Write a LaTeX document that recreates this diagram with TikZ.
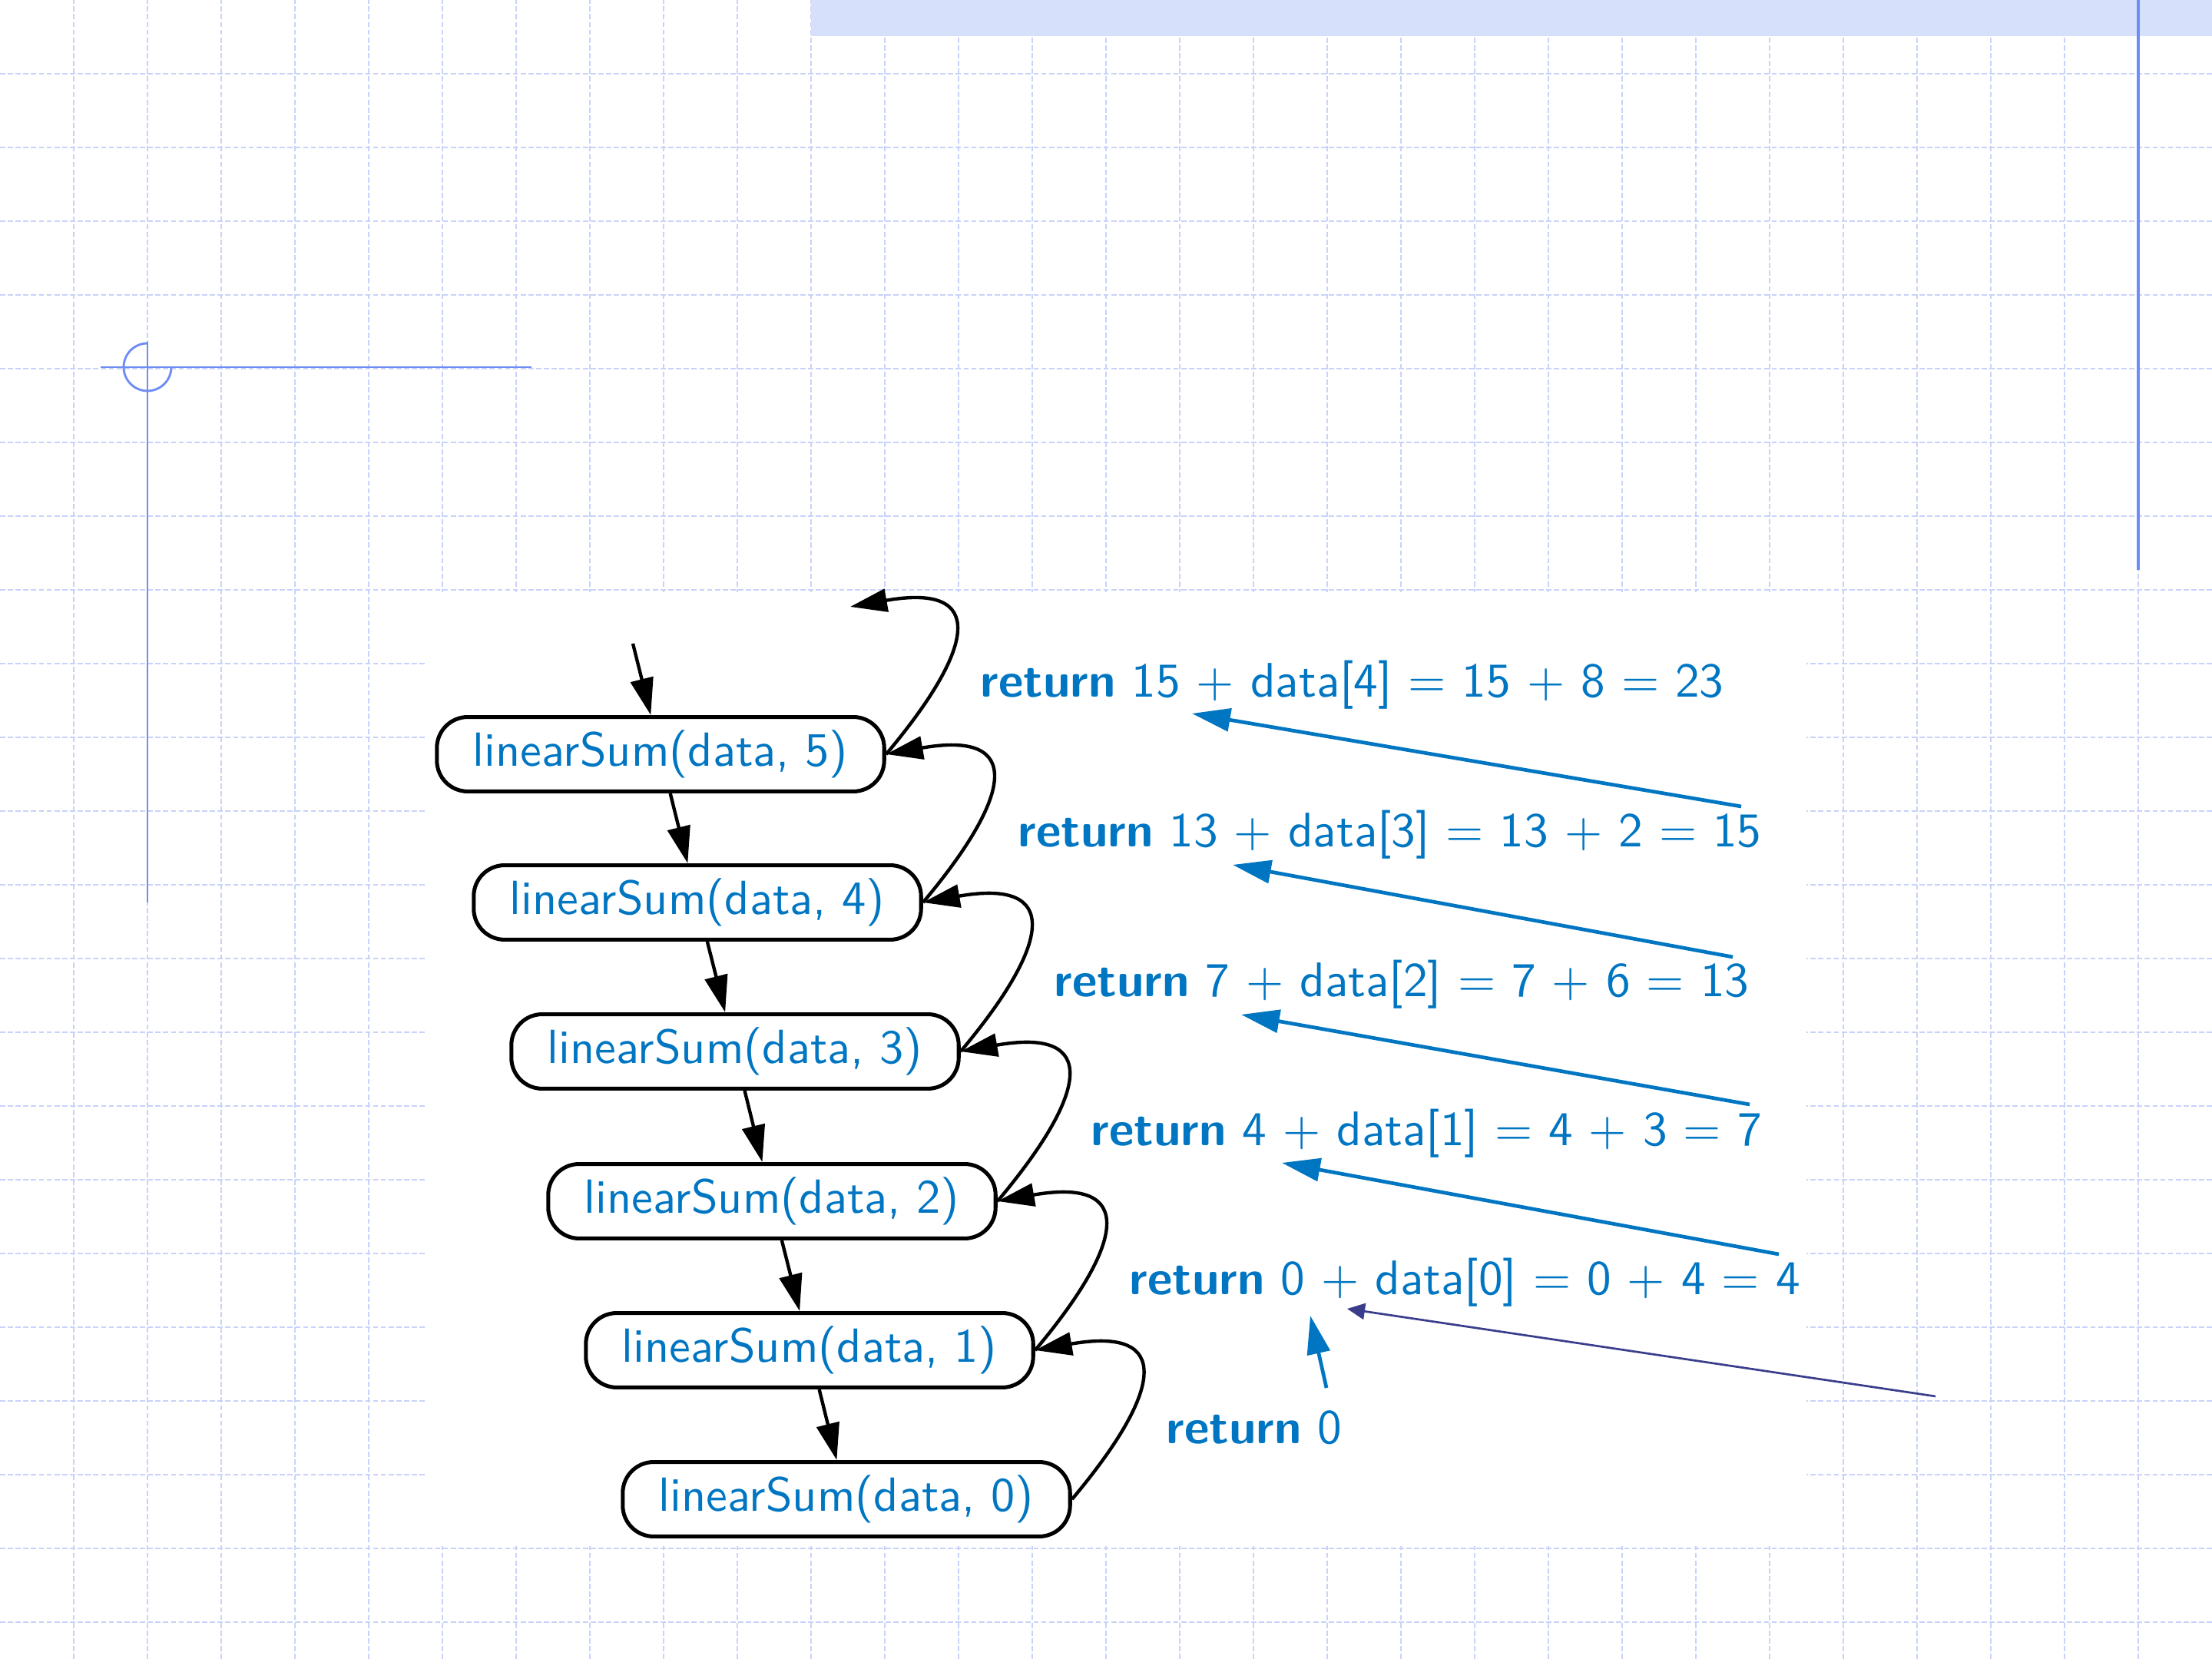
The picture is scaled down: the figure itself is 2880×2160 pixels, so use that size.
\documentclass[tikz,border=0pt]{standalone}
\usepackage{graphicx}
\usepackage{tikz}
\usetikzlibrary{arrows.meta}

\definecolor{slideblue}{RGB}{0,118,194}
\definecolor{slidenavy}{RGB}{58,61,140}
\definecolor{gridblue}{RGB}{200,210,250}
\definecolor{barblue}{RGB}{214,224,251}
\definecolor{markblue}{RGB}{110,140,245}

% slide text: the 10pt design of the sans, blown up
\newcommand{\slidetext}[2][1.85]{\scalebox{#1}{#2}}

\tikzset{
  callbox/.style={draw, line width=1.5pt, rounded corners=0.42cm, fill=white,
    minimum width=6.07cm, minimum height=1.01cm, inner sep=0pt,
    text=slideblue, font=\fontsize{10}{12}\selectfont\sffamily},
  retlabel/.style={anchor=base west, inner sep=0pt, text=slideblue,
    font=\fontsize{10}{12}\selectfont\sffamily},
  callarrow/.style={line width=1.3pt, -{Triangle[length=0.5cm, width=0.31cm]}},
  retarrow/.style={slideblue, line width=1.4pt, -{Triangle[length=0.52cm, width=0.31cm]}},
  navyarrow/.style={slidenavy, line width=0.8pt, -{Triangle[length=0.24cm, width=0.22cm]}},
  gridline/.style={gridblue, line width=0.7pt, dash pattern=on 2pt off 1pt},
  markline/.style={markblue, line width=0.85pt}
}

\begin{document}
\begin{tikzpicture}[x=0.0104167cm, y=0.0104167cm]
    \useasboundingbox (0,0) rectangle (2880,2160);
    % slide background
    \foreach \i in {1,...,29}
        \draw[gridline] (96*\i,0) -- (96*\i,2160);
    \foreach \j in {0,...,21}
        \draw[gridline] (0,48+96*\j) -- (2880,48+96*\j);
    \fill[barblue] (1056,2113) rectangle (2880,2160);
    \fill[white] (554,147) rectangle (2352,1389);
    \draw[markline] (131,1682) -- (692,1682);
    \draw[markline] (192,1715) -- (192,985);
    \draw[markline] (192,1713) arc[start angle=90, end angle=360, radius=0.323cm];
    \draw[markline, line width=1pt] (2784,1418) -- (2784,2160);

    % recursion trace
    \draw
        (860, 1178) node[callbox](b5){\slidetext{linearSum(data, 5)}}
        (908,  985) node[callbox](b4){\slidetext{linearSum(data, 4)}}
        (957,  791) node[callbox](b3){\slidetext{linearSum(data, 3)}}
        (1005, 596) node[callbox](b2){\slidetext{linearSum(data, 2)}}
        (1054, 402) node[callbox](b1){\slidetext{linearSum(data, 1)}}
        (1102, 208) node[callbox](b0){\slidetext{linearSum(data, 0)}}
    ;
    \coordinate (call) at (824,1322);
    \coordinate (done) at (1107,1370);

    \draw[callarrow] (call) -- (b5);
    \draw[callarrow] (b5) -- (b4);
    \draw[callarrow] (b4) -- (b3);
    \draw[callarrow] (b3) -- (b2);
    \draw[callarrow] (b2) -- (b1);
    \draw[callarrow] (b1) -- (b0);
    \draw[callarrow] (b0.east) to[out=50, in=10, looseness=2.35] (b1.east);
    \draw[callarrow] (b1.east) to[out=50, in=10, looseness=2.35] (b2.east);
    \draw[callarrow] (b2.east) to[out=50, in=10, looseness=2.35] (b3.east);
    \draw[callarrow] (b3.east) to[out=50, in=10, looseness=2.35] (b4.east);
    \draw[callarrow] (b4.east) to[out=50, in=10, looseness=2.35] (b5.east);
    \draw[callarrow] (b5.east) to[out=50, in=10, looseness=2.35] (done);

    % return values
    \node[retlabel] (r5) at (1276,1252) {\slidetext[1.875]{\textbf{return} 15 $+$ data[4] $=$ 15 $+$ 8 $=$ 23}};
    \node[retlabel] (r4) at (1325,1057) {\slidetext[1.875]{\textbf{return} 13 $+$ data[3] $=$ 13 $+$ 2 $=$ 15}};
    \node[retlabel] (r3) at (1372, 862) {\slidetext[1.875]{\textbf{return} 7 $+$ data[2] $=$ 7 $+$ 6 $=$ 13}};
    \node[retlabel] (r2) at (1420, 668) {\slidetext[1.875]{\textbf{return} 4 $+$ data[1] $=$ 4 $+$ 3 $=$ 7}};
    \node[retlabel] (r1) at (1470, 474) {\slidetext[1.875]{\textbf{return} 0 $+$ data[0] $=$ 0 $+$ 4 $=$ 4}};
    \node[retlabel] (r0) at (1518, 280) {\slidetext[1.875]{\textbf{return} 0}};

    \coordinate (v4) at (2267,1110);
    \coordinate (u5) at (1552,1231);
    \coordinate (v3) at (2256, 914);
    \coordinate (u4) at (1605,1034);
    \coordinate (v2) at (2278, 722);
    \coordinate (u3) at (1616, 839);
    \coordinate (v1) at (2316, 527);
    \coordinate (u2) at (1669, 646);
    \coordinate (v0) at (2520, 342);
    \coordinate (u1) at (1754, 456);
    \coordinate (w0) at (1727, 353);
    \coordinate (u0) at (1706, 447);
    \draw[retarrow] (v4) -- (u5);
    \draw[retarrow] (v3) -- (u4);
    \draw[retarrow] (v2) -- (u3);
    \draw[retarrow] (v1) -- (u2);
    \draw[navyarrow] (v0) -- (u1);
    \draw[retarrow] (w0) -- (u0);
\end{tikzpicture}
\end{document}
